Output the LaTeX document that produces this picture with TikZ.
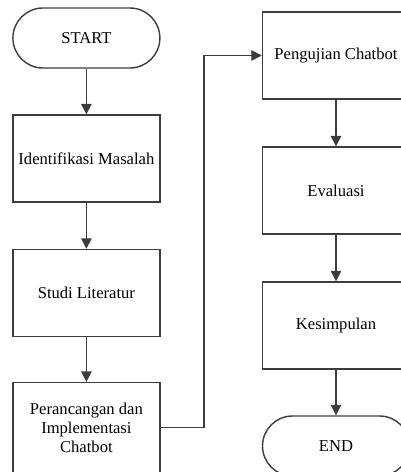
\documentclass[tikz,border=0pt]{standalone}
\usepackage{fontspec}
\setmainfont{Liberation Serif}
\usepackage{xcolor}
\definecolor{flowline}{RGB}{60,60,60}
\usetikzlibrary{arrows.meta,positioning}
\tikzset{
  proc/.style={draw=flowline, line width=1pt, minimum width=3.675cm, minimum height=2.175cm,
    align=center, font=\fontsize{11.8}{13.6}\selectfont},
  term/.style={draw=flowline, line width=1pt, minimum width=3.675cm, minimum height=1.5cm,
    rounded corners=0.75cm, font=\fontsize{11.8}{13.6}\selectfont},
  flow/.style={draw=flowline, line width=1pt, -{Triangle[length=7.5pt,width=7.5pt]}}
}
\begin{document}
\begin{tikzpicture}
  \clip (0,0) rectangle (10.025,11.8);

  %% Left column
  \node[term] (start)   at (2.16,10.85)  {START};
  \node[proc] (ident)   at (2.16,7.8375) {Identifikasi Masalah};
  \node[proc] (studi)   at (2.16,4.475)  {Studi Literatur};
  \node[proc, minimum height=2.27cm] (rancang) at (2.16,1.1) {Perancangan dan\\Implementasi\\Chatbot};

  %% Right column
  \node[proc] (uji)     at (8.4,10.4125) {Pengujian Chatbot};
  \node[proc] (evaluasi) at (8.4,7.0375) {Evaluasi};
  \node[proc] (simpul)  at (8.4,3.6625)  {Kesimpulan};
  \node[term] (end)     at (8.4,0.65)    {END};

  %% Connectors
  \coordinate (belok) at (5.1,1.1125);
  \draw[flow] (start) -- (ident);
  \draw[flow] (ident) -- (studi);
  \draw[flow] (studi) -- (rancang);
  \draw[flow] (rancang.east |- belok) -- (belok) |- (uji.west);
  \draw[flow] (uji) -- (evaluasi);
  \draw[flow] (evaluasi) -- (simpul);
  \draw[flow] (simpul) -- (end);
\end{tikzpicture}
\end{document}
